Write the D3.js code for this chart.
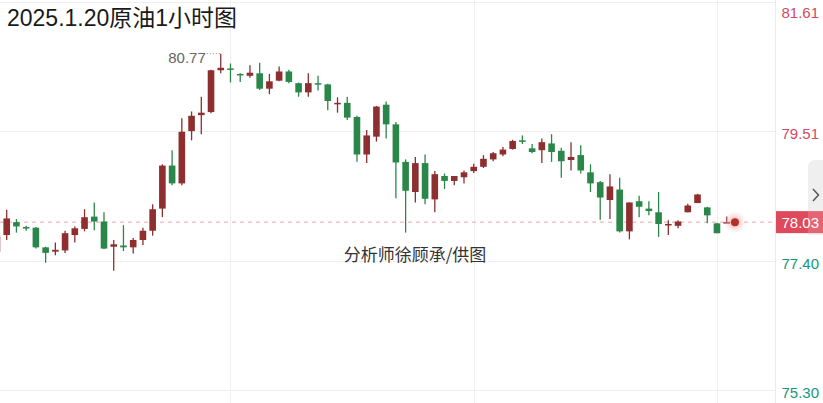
<!DOCTYPE html>
<html><head><meta charset="utf-8">
<script src="https://cdn.jsdelivr.net/npm/d3@7"></script>
<style>html,body{margin:0;padding:0;background:#fff;overflow:hidden}</style>
</head><body>
<svg id="c" width="823" height="403"></svg>
<script>
const title = "2025.1.20原油1小时图";
const credit = "分析师徐顾承/供图";
const candleIndex = d3.range(-1, 75);
const openP  = [77.55,77.82,78.03,77.95,77.94,77.62,77.55,77.57,77.82,77.92,78.12,78.04,77.63,77.65,77.62,77.74,77.89,78.25,78.95,78.66,79.51,79.77,79.82,80.50,80.53,80.44,80.41,80.45,80.20,80.33,80.48,80.29,80.14,80.29,80.27,79.96,79.97,79.74,79.13,79.42,79.94,79.62,79.01,78.52,78.99,78.40,78.78,78.70,78.76,78.86,78.93,79.05,79.13,79.22,79.36,79.23,79.20,79.31,79.19,79.04,79.12,78.84,78.68,78.39,78.56,77.88,78.37,78.25,78.19,77.99,77.97,78.19,78.34,78.27,78.01,78.02];
const highP  = [77.85,78.23,78.08,77.97,77.95,77.63,77.70,77.89,77.96,78.24,78.35,78.19,77.74,77.98,77.77,77.94,78.32,78.97,79.20,79.72,79.83,80.07,80.51,80.77,80.61,80.45,80.58,80.62,80.44,80.56,80.51,80.30,80.45,80.41,80.28,80.06,80.07,79.76,79.53,79.92,79.99,79.66,79.05,79.09,79.13,78.86,78.82,78.78,78.87,78.98,79.12,79.17,79.25,79.37,79.44,79.30,79.39,79.46,79.24,79.33,79.28,78.97,78.70,78.81,78.75,78.35,78.46,78.37,78.52,78.06,78.06,78.33,78.49,78.28,78.02,78.12];
const lowP   = [77.50,77.74,77.86,77.89,77.60,77.37,77.49,77.53,77.70,77.88,77.90,77.59,77.24,77.56,77.52,77.66,77.81,78.11,78.63,78.63,79.36,79.46,79.80,80.45,80.30,80.31,80.38,80.18,80.11,80.32,80.29,80.07,80.07,80.17,79.85,79.81,79.69,79.01,78.99,79.34,79.39,78.42,77.86,78.35,78.32,78.19,78.57,78.63,78.66,78.83,78.91,79.02,79.10,79.21,79.30,79.15,78.99,79.01,78.75,78.87,78.82,78.52,78.07,78.08,77.86,77.75,78.11,78.14,77.79,77.82,77.93,78.19,78.34,78.01,77.85,78.02];
const closeP = [77.80,78.09,77.96,77.93,77.62,77.53,77.58,77.85,77.93,78.11,78.04,77.60,77.67,77.62,77.74,77.89,78.24,78.95,78.66,79.50,79.76,79.81,80.50,80.54,80.52,80.43,80.46,80.20,80.32,80.48,80.31,80.14,80.29,80.28,80.00,79.97,79.73,79.13,79.44,79.91,79.62,79.00,78.54,78.99,78.41,78.81,78.70,78.78,78.84,78.93,79.06,79.15,79.21,79.35,79.35,79.17,79.33,79.17,79.02,79.09,78.87,78.66,78.43,78.61,77.88,78.35,78.28,78.21,78.00,78.00,78.04,78.30,78.48,78.14,77.85,78.03];
const yTicks = [81.61, 79.51, 77.40, 75.30];
const lastPrice = 78.03;
const highLabel = 80.77;
const gridIndex = [23, 48, 73];

const svg = d3.select("#c");
const W = 823, H = 403, plotR = 775;
const x = d3.scaleLinear().domain([0, 74]).range([6.7, 726.7]);
const y = d3.scaleLinear().domain([75.30, 81.61]).range([390, 2]);
const RED = "#8e2e2e", GREEN = "#2b8649";
const bodyW = 6.6;

// grid
svg.append("g").selectAll("line").data(yTicks).join("line")
  .attr("x1", 0).attr("x2", plotR).attr("y1", d => Math.round(y(d)) + 0.5).attr("y2", d => Math.round(y(d)) + 0.5)
  .attr("stroke", "#efefef").attr("stroke-width", 1);
svg.append("g").selectAll("line").data(gridIndex).join("line")
  .attr("x1", d => Math.round(x(d)) + 0.5).attr("x2", d => Math.round(x(d)) + 0.5).attr("y1", 0).attr("y2", H)
  .attr("stroke", "#efefef").attr("stroke-width", 1);
svg.append("line").attr("x1", plotR + 0.5).attr("x2", plotR + 0.5).attr("y1", 0).attr("y2", H)
  .attr("stroke", "#ececec");

// title
svg.append("text").attr("x", 7).attr("y", 26).text(title)
  .attr("font-family", "'Liberation Sans','Noto Sans CJK SC',sans-serif").attr("font-size", 23).attr("fill", "#1a1a1a");

// credit
svg.append("text").attr("x", 415).attr("y", 261).attr("text-anchor", "middle").text(credit)
  .attr("font-family", "'Noto Sans CJK SC',sans-serif").attr("font-size", 17).attr("fill", "#333");

// last price dashed line
svg.append("line").attr("x1", 0).attr("x2", plotR).attr("y1", y(lastPrice)).attr("y2", y(lastPrice))
  .attr("stroke", "#f0a3ad").attr("stroke-dasharray", "4,4").attr("stroke-width", 1);

// candles
const data = candleIndex.map((i, k) => ({i, o: openP[k], h: highP[k], l: lowP[k], c: closeP[k]}));
const g = svg.append("g");
g.selectAll("line.w").data(data).join("line").attr("class", "w")
  .attr("x1", d => x(d.i)).attr("x2", d => x(d.i)).attr("y1", d => y(d.h)).attr("y2", d => y(d.l))
  .attr("stroke", d => d.c >= d.o ? RED : GREEN).attr("stroke-width", 1.3);
g.selectAll("rect").data(data).join("rect")
  .attr("x", d => x(d.i) - bodyW / 2).attr("width", bodyW)
  .attr("y", d => y(Math.max(d.o, d.c)))
  .attr("height", d => Math.max(1.5, Math.abs(y(d.o) - y(d.c))))
  .attr("fill", d => d.c >= d.o ? RED : GREEN);

// high label
const hiIdx = highP.indexOf(highLabel);
const hx = x(candleIndex[hiIdx]);
svg.append("line").attr("x1", hx - 14).attr("x2", hx).attr("y1", y(highLabel)).attr("y2", y(highLabel))
  .attr("stroke", "#888").attr("stroke-dasharray", "1,2").attr("stroke-width", 1);
svg.append("text").attr("x", hx - 15).attr("y", y(highLabel) + 9).attr("text-anchor", "end")
  .text(highLabel.toFixed(2)).attr("font-family", "'Liberation Sans',Arial,sans-serif").attr("font-size", 15).attr("fill", "#666");

// current price dot
const dotX = x(75) - 1.5;
const grad = svg.append("defs").append("radialGradient").attr("id", "glow");
grad.append("stop").attr("offset", "0%").attr("stop-color", "#e77").attr("stop-opacity", 0.8);
grad.append("stop").attr("offset", "100%").attr("stop-color", "#fbdede").attr("stop-opacity", 0);
svg.append("circle").attr("cx", dotX).attr("cy", y(lastPrice)).attr("r", 12).attr("fill", "url(#glow)");
svg.append("circle").attr("cx", dotX).attr("cy", y(lastPrice)).attr("r", 4).attr("fill", "#b3302c");

// axis labels
svg.append("g").selectAll("text").data(yTicks).join("text")
  .attr("x", 819).attr("text-anchor", "end")
  .attr("y", d => Math.max(y(d) + 3, 13) + 5)
  .text(d => d.toFixed(2))
  .attr("font-family", "'Liberation Sans',Arial,sans-serif").attr("font-size", 15)
  .attr("fill", d => d > lastPrice ? "#d44a5e" : "#17977a");

// side button
svg.append("path").attr("d", "M823,160 L815,160 Q808,160 808,168 L808,235 L823,235 Z").attr("fill", "#efefef");
svg.append("polyline").attr("points", "813,189 818.5,195 813,201").attr("fill", "none")
  .attr("stroke", "#555").attr("stroke-width", 1.5);

// last price label
const ly = y(lastPrice);
svg.append("rect").attr("x", 776).attr("y", ly - 11).attr("width", 47).attr("height", 22).attr("fill", "#de4a5c");
svg.append("rect").attr("x", 808).attr("y", ly - 11).attr("width", 15).attr("height", 22).attr("fill", "#fff").attr("opacity", 0.15);
svg.append("text").attr("x", 819).attr("y", ly + 5.5).attr("text-anchor", "end").text(lastPrice.toFixed(2))
  .attr("font-family", "'Liberation Sans',Arial,sans-serif").attr("font-size", 15).attr("fill", "#fff");
</script>
</body></html>
